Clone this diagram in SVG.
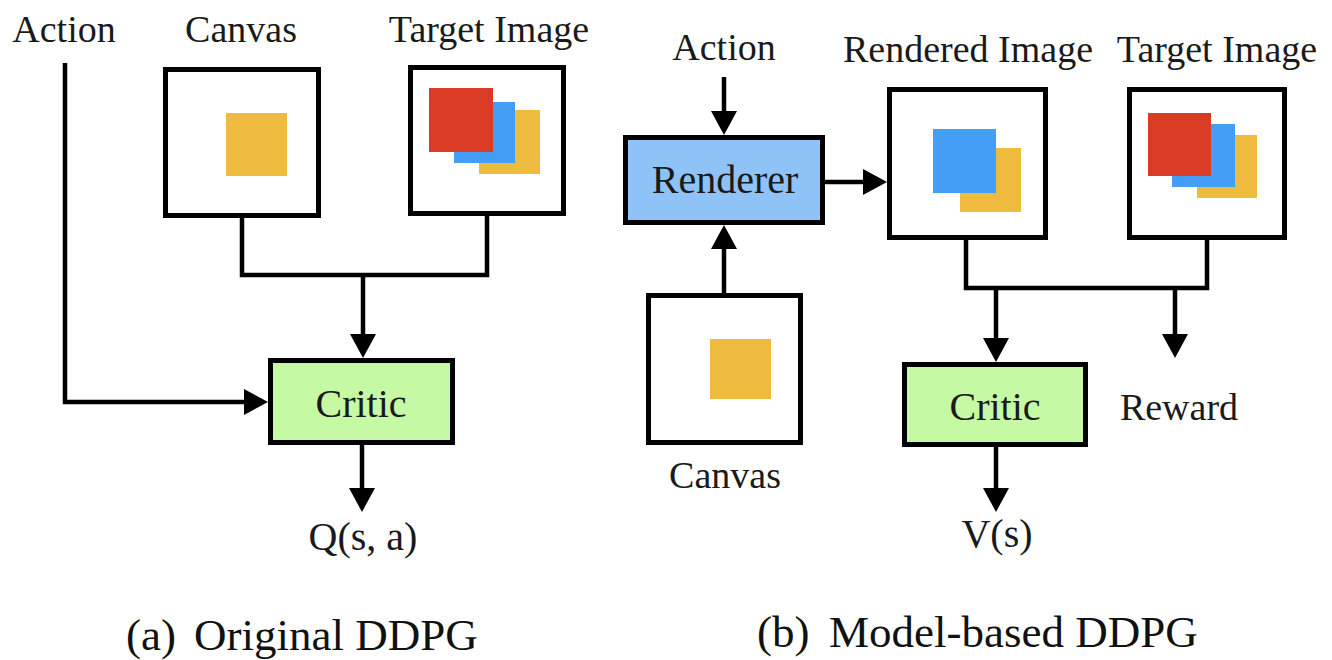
<svg xmlns="http://www.w3.org/2000/svg" width="1332" height="660" viewBox="0 0 1332 660">
<defs>
<style>
.bg{fill:#ffffff}
.box{fill:#ffffff;stroke:#000;stroke-width:5}
.rend{fill:#8fc3f7;stroke:#000;stroke-width:5}
.crit{fill:#c6f9a3;stroke:#000;stroke-width:5}
.wire{fill:none;stroke:#000;stroke-width:4.5}
.lbl{font-family:"Liberation Serif","Times New Roman",serif;font-size:38px;fill:#1a1a1a;text-anchor:middle}
.in{font-family:"Liberation Serif","Times New Roman",serif;font-size:40px;fill:#1a1a1a;text-anchor:middle}
.cap{font-family:"Liberation Serif","Times New Roman",serif;font-size:45px;fill:#111}
.y{fill:#efbb3e}
.b{fill:#449ef6}
.r{fill:#da3b25}
</style>
<marker id="ah" markerUnits="userSpaceOnUse" viewBox="0 0 24 26" refX="0" refY="13" markerWidth="24" markerHeight="26" orient="auto">
<path d="M0,0 L24,13 L0,26 z" fill="#000"/>
</marker>
</defs>
<rect class="bg" x="0" y="0" width="1332" height="660"/>

<g id="connectors">
<path class="wire" d="M65,63 V402 H244" marker-end="url(#ah)"/>
<path class="wire" d="M242,218 V275 H487 V216"/>
<path class="wire" d="M363,275 V334" marker-end="url(#ah)"/>
<path class="wire" d="M362,445 V488" marker-end="url(#ah)"/>
<path class="wire" d="M724,77 V111" marker-end="url(#ah)"/>
<path class="wire" d="M825,182 H863" marker-end="url(#ah)"/>
<path class="wire" d="M724,293 V249" marker-end="url(#ah)"/>
<path class="wire" d="M966,240 V288 H1207 V240"/>
<path class="wire" d="M996,288 V338" marker-end="url(#ah)"/>
<path class="wire" d="M1175,288 V334" marker-end="url(#ah)"/>
<path class="wire" d="M996,447 V488" marker-end="url(#ah)"/>
</g>

<g id="action-a">
<text class="lbl" x="64" y="42">Action</text>
</g>

<g id="canvas-a">
<text class="lbl" x="241" y="42">Canvas</text>
<rect class="box" x="165.5" y="69.5" width="153" height="146"/>
<rect class="y" x="226" y="113" width="61" height="63"/>
</g>

<g id="target-a">
<text class="lbl" x="489" y="42">Target Image</text>
<rect class="box" x="410.5" y="67.5" width="153" height="146"/>
<rect class="y" x="479" y="110" width="61" height="64"/>
<rect class="b" x="454" y="102" width="61" height="61"/>
<rect class="r" x="429" y="88" width="64" height="64"/>
</g>

<g id="critic-a">
<rect class="crit" x="270.5" y="360.5" width="182" height="82"/>
<text class="in" x="361" y="417">Critic</text>
</g>

<g id="q-a">
<text class="in" x="363" y="550">Q(s, a)</text>
</g>

<g id="caption-a">
<text class="cap" x="126" y="650">(a)<tspan x="194">Original DDPG</tspan></text>
</g>

<g id="action-b">
<text class="lbl" x="724" y="60">Action</text>
</g>

<g id="renderer">
<rect class="rend" x="625.5" y="137.5" width="197" height="85"/>
<text class="in" x="725" y="193">Renderer</text>
</g>

<g id="rendered-image">
<text class="lbl" x="968" y="62">Rendered Image</text>
<rect class="box" x="889.5" y="89.5" width="156" height="148"/>
<rect class="y" x="960" y="148" width="61" height="64"/>
<rect class="b" x="933" y="129" width="63" height="64"/>
</g>

<g id="target-b">
<text class="lbl" x="1217" y="62">Target Image</text>
<rect class="box" x="1129.5" y="89.5" width="155" height="148"/>
<rect class="y" x="1197" y="135" width="60" height="63"/>
<rect class="b" x="1172" y="124" width="63" height="63"/>
<rect class="r" x="1148" y="113" width="63" height="63"/>
</g>

<g id="canvas-b">
<rect class="box" x="648.5" y="295.5" width="152" height="147"/>
<rect class="y" x="710" y="339" width="61" height="60"/>
<text class="lbl" x="725" y="488">Canvas</text>
</g>

<g id="critic-b">
<rect class="crit" x="904.5" y="364.5" width="181" height="80"/>
<text class="in" x="995" y="420">Critic</text>
</g>

<g id="reward">
<text class="lbl" x="1179" y="420">Reward</text>
</g>

<g id="v-b">
<text class="in" x="997" y="547">V(s)</text>
</g>

<g id="caption-b">
<text class="cap" x="757" y="647">(b)<tspan x="829">Model-based DDPG</tspan></text>
</g>
</svg>
